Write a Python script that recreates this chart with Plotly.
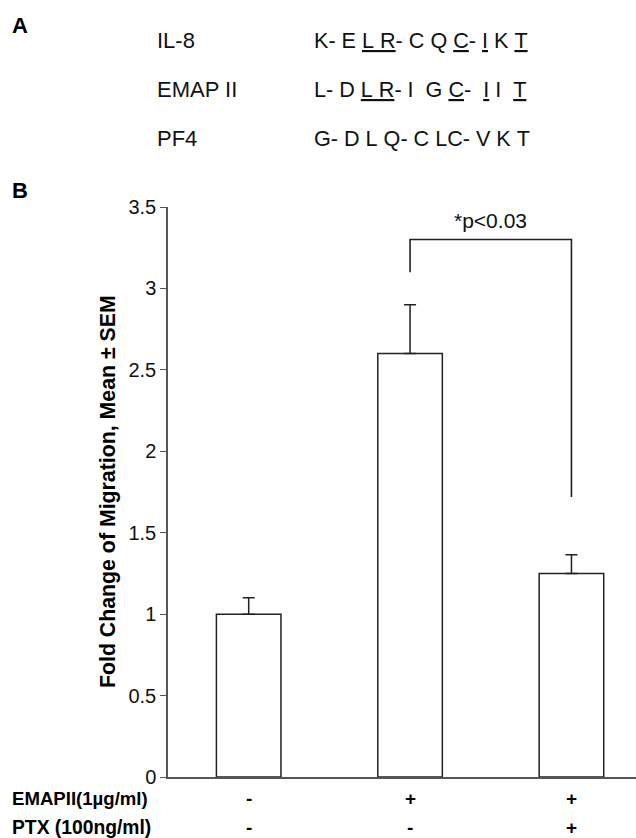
import plotly.graph_objects as go

# Data
categories = [0, 1, 2]
means = [1.0, 2.6, 1.25]
sem = [0.1, 0.3, 0.115]
emap_row = ["-", "+", "+"]
ptx_row = ["-", "-", "+"]
y_ticks = [0, 0.5, 1, 1.5, 2, 2.5, 3, 3.5]
y_ticklabels = ["0", "0.5", "1", "1.5", "2", "2.5", "3", "3.5"]
bracket_x = [1, 1, 2, 2]
bracket_y = [3.1, 3.3, 3.3, 1.72]
seq_names = ["IL-8", "EMAP II", "PF4"]
seq_texts = [
    "K- E <u>L R</u>- C Q <u>C</u>- <u>I</u> K <u>T</u>",
    "L- D <u>L R</u>- I  G <u>C</u>-  <u>I</u> I  <u>T</u>",
    "G- D L Q- C LC- V K T",
]

FONT = "Liberation Sans, Arial, sans-serif"
W, H = 636, 838
L, R, T, B = 168, 0, 207, 61

fig = go.Figure()
fig.add_trace(go.Bar(
    x=categories, y=means, width=0.4,
    marker=dict(color="white", line=dict(color="#222", width=1.5)),
    error_y=dict(type="data", symmetric=False, array=sem, arrayminus=[0] * len(sem),
                 color="#222", thickness=1.5, width=6),
    showlegend=False,
))
fig.add_trace(go.Scatter(
    x=bracket_x, y=bracket_y, mode="lines",
    line=dict(color="#222", width=1.6), showlegend=False, hoverinfo="skip",
))

ann = []
ann.append(dict(x=1.5, y=3.42, xref="x", yref="y", text="*p<0.03", showarrow=False,
                font=dict(family=FONT, size=21, color="#111"), xanchor="center", yanchor="middle"))
for i, c in enumerate(categories):
    ann.append(dict(x=c, y=0, xref="x", yref="paper", yshift=-21, text="<b>%s</b>" % emap_row[i],
                    showarrow=False, font=dict(family=FONT, size=19, color="#000"),
                    xanchor="center", yanchor="middle"))
    ann.append(dict(x=c, y=0, xref="x", yref="paper", yshift=-50, text="<b>%s</b>" % ptx_row[i],
                    showarrow=False, font=dict(family=FONT, size=19, color="#000"),
                    xanchor="center", yanchor="middle"))
ann.append(dict(x=0, y=0, xref="paper", yref="paper", xshift=-158, yshift=-21,
                text="<b>EMAPII(1µg/ml)</b>", showarrow=False,
                font=dict(family=FONT, size=18.6, color="#000"), xanchor="left", yanchor="middle"))
ann.append(dict(x=0, y=0, xref="paper", yref="paper", xshift=-158, yshift=-50,
                text="<b>PTX (100ng/ml)</b>", showarrow=False,
                font=dict(family=FONT, size=19.3, color="#000"), xanchor="left", yanchor="middle"))
# y title
ann.append(dict(x=0, y=0.5, xref="paper", yref="paper", xshift=-60,
                text="<b>Fold Change of Migration, Mean ± SEM</b>", textangle=-90, showarrow=False,
                font=dict(family=FONT, size=21.3, color="#000"), xanchor="center", yanchor="middle"))
# Panel labels
def ypix(py):
    return T - py  # shift from top of plot area

ann.append(dict(x=0, y=1, xref="paper", yref="paper", xshift=-158, yshift=ypix(25),
                text="<b>A</b>", showarrow=False, font=dict(family=FONT, size=22, color="#000"),
                xanchor="left", yanchor="middle"))
ann.append(dict(x=0, y=1, xref="paper", yref="paper", xshift=-158, yshift=ypix(190),
                text="<b>B</b>", showarrow=False, font=dict(family=FONT, size=22, color="#000"),
                xanchor="left", yanchor="middle"))
row_y = [40, 89, 138]
for i in range(3):
    ann.append(dict(x=0, y=1, xref="paper", yref="paper", xshift=155 - L, yshift=ypix(row_y[i]),
                    text=seq_names[i], showarrow=False, font=dict(family=FONT, size=22, color="#111"),
                    xanchor="left", yanchor="middle"))
    ann.append(dict(x=0, y=1, xref="paper", yref="paper", xshift=312 - L, yshift=ypix(row_y[i]),
                    text=seq_texts[i].replace(" ", "\u00a0"), showarrow=False,
                    font=dict(family=FONT, size=21.6, color="#111"),
                    xanchor="left", yanchor="middle"))

fig.update_layout(
    width=W, height=H, margin=dict(l=L, r=R, t=T, b=B, pad=0),
    paper_bgcolor="white", plot_bgcolor="white",
    annotations=ann, bargap=0.6,
    xaxis=dict(range=[-0.5, 2.4], showticklabels=False, ticks="", showgrid=False, zeroline=False,
               showline=True, linecolor="#555", linewidth=1.5, fixedrange=True),
    yaxis=dict(range=[0, 3.5], tickvals=y_ticks, ticktext=y_ticklabels, ticks="outside",
               ticklen=6, tickwidth=1.3, tickcolor="#555", showgrid=False, zeroline=False,
               showline=True, linecolor="#555", linewidth=1.5,
               tickfont=dict(family=FONT, size=20, color="#111"), fixedrange=True),
)
fig.write_html("out.html")
